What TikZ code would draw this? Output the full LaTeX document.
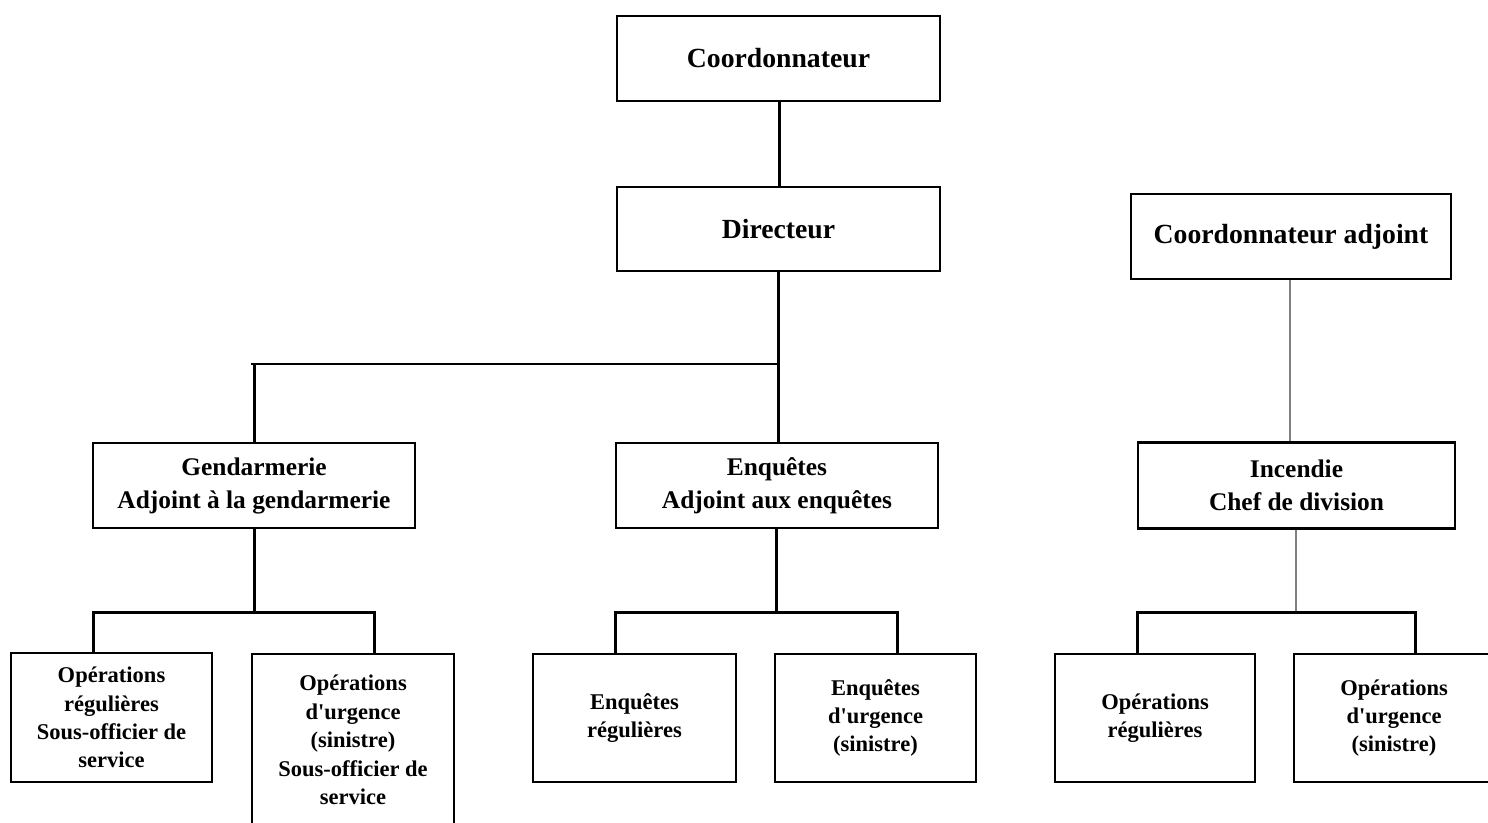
\documentclass[tikz,border=0pt]{standalone}
\usepackage{fontspec}
\setmainfont{Liberation Serif}[Ligatures=TeXOff]
\begin{document}
\begin{tikzpicture}[x=1pt,y=-1pt,
  box/.style={draw=black,line width=2.6pt,rectangle,inner sep=0pt,align=center,font=\bfseries},
  topfont/.style={font=\bfseries\fontsize{27.7}{33}\selectfont},
  midfont/.style={font=\bfseries\fontsize{25.4}{33}\selectfont},
  lowfont/.style={font=\bfseries\fontsize{22.5}{28.4}\selectfont},
  link/.style={draw=black,line width=3pt},
  thinlink/.style={draw=black,line width=2pt},
  greylink/.style={draw=black!50,line width=2pt}]
\useasboundingbox (0,0) rectangle (1488,822);
\begin{scope}
\clip (0,0) rectangle (1488,822);
% top level
\node[box,topfont,minimum width=323pt,minimum height=85pt] (coord) at (778.5,58.5) {Coordonnateur};
\node[box,topfont,minimum width=323pt,minimum height=84pt] (dir) at (778.5,229) {Directeur};
\node[box,topfont,minimum width=320pt,minimum height=85pt] (adj) at (1291,236.5) {Coordonnateur adjoint};
% divisions
\node[box,midfont,minimum width=322pt,minimum height=85pt] (gend) at (254,485.5) {Gendarmerie\\Adjoint à la gendarmerie};
\node[box,midfont,minimum width=322pt,minimum height=85pt] (enq) at (777,485.5) {Enquêtes\\Adjoint aux enquêtes};
\node[box,midfont,minimum width=317pt,minimum height=86pt] (inc) at (1296.5,485.5) {Incendie\\Chef de division};
% sections
\node[box,lowfont,minimum width=201pt,minimum height=129pt] (opreg) at (111.5,717.5) {Opérations\\régulières\\Sous-officier de\\service};
\node[box,lowfont,minimum width=202pt,minimum height=172pt] (opurg) at (353,740) {Opérations\\d'urgence\\(sinistre)\\Sous-officier de\\service};
\node[box,lowfont,minimum width=203pt,minimum height=128pt] (enqreg) at (634.5,718) {Enquêtes\\régulières};
\node[box,lowfont,minimum width=201pt,minimum height=128pt] (enqurg) at (875.5,718) {Enquêtes\\d'urgence\\(sinistre)};
\node[box,lowfont,minimum width=200pt,minimum height=128pt] (increg) at (1155,718) {Opérations\\régulières};
\node[box,lowfont,minimum width=200pt,minimum height=128pt] (incurg) at (1394,718) {Opérations\\d'urgence\\(sinistre)};
% branch points
\coordinate (dirbranch) at (778,364);
\coordinate (gendbar) at (254,612);
\coordinate (enqbar) at (776,612);
\coordinate (incbar) at (1296,612);
% connectors
\draw[link] (coord.south -| 779,0) -- (dir.north -| 779,0);
\draw[link] (dir.south -| 778,0) -- (enq.north -| 778,0);
\draw[thinlink] (dirbranch) -- (251,364);
\draw[link] (254,364) -- (gend.north -| 254,0);
\draw[link] (gend.south -| gendbar) -- (gendbar);
\draw[link] (opreg.north -| 93,0) |- (gendbar) -| (opurg.north -| 374,0);
\draw[link] (enq.south -| enqbar) -- (enqbar);
\draw[link] (enqreg.north -| 615,0) |- (enqbar) -| (enqurg.north -| 897,0);
\draw[greylink] (adj.south -| 1290,0) -- (inc.north -| 1290,0);
\draw[greylink] (inc.south -| incbar) -- (incbar);
\draw[link] (increg.north -| 1137,0) |- (incbar) -| (incurg.north -| 1415,0);
\end{scope}
\end{tikzpicture}
\end{document}
